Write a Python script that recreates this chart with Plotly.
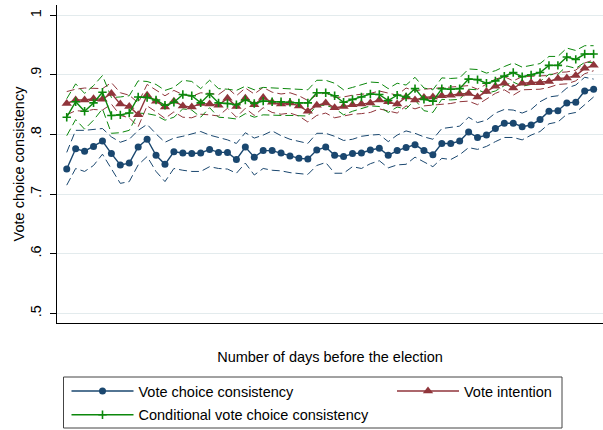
import plotly.graph_objects as go

days = list(range(-60, 0))

vote_choice = [0.742,0.776,0.772,0.780,0.789,0.768,0.749,0.752,0.779,0.792,
0.765,0.750,0.771,0.769,0.768,0.769,0.775,0.770,0.770,0.758,
0.779,0.762,0.773,0.773,0.769,0.764,0.760,0.759,0.774,0.779,
0.765,0.763,0.768,0.769,0.774,0.777,0.765,0.773,0.778,0.783,
0.773,0.766,0.785,0.785,0.789,0.804,0.795,0.799,0.810,0.819,
0.819,0.813,0.816,0.825,0.839,0.840,0.853,0.854,0.873,0.876]
vote_choice_hi = [0.770,0.807,0.807,0.808,0.810,0.796,0.787,0.792,0.807,0.817,
0.801,0.787,0.794,0.797,0.801,0.805,0.799,0.795,0.791,0.785,
0.803,0.794,0.799,0.806,0.798,0.792,0.789,0.785,0.802,0.802,
0.797,0.790,0.792,0.797,0.799,0.800,0.788,0.799,0.806,0.802,
0.796,0.792,0.810,0.812,0.814,0.829,0.820,0.824,0.836,0.842,
0.841,0.836,0.842,0.855,0.863,0.865,0.878,0.883,0.896,0.893]
vote_choice_lo = [0.715,0.743,0.738,0.748,0.767,0.743,0.718,0.721,0.749,0.763,
0.738,0.721,0.743,0.740,0.738,0.738,0.746,0.743,0.742,0.735,
0.752,0.732,0.743,0.740,0.739,0.736,0.734,0.733,0.748,0.753,
0.735,0.735,0.746,0.743,0.751,0.756,0.744,0.749,0.750,0.762,
0.754,0.746,0.760,0.758,0.766,0.778,0.775,0.780,0.788,0.795,
0.795,0.791,0.799,0.805,0.818,0.821,0.834,0.837,0.850,0.863]

intention = [0.852,0.858,0.858,0.860,0.859,0.869,0.851,0.847,0.833,0.866,
0.856,0.846,0.856,0.848,0.846,0.852,0.851,0.849,0.861,0.847,
0.861,0.850,0.862,0.854,0.851,0.853,0.848,0.839,0.849,0.853,
0.845,0.847,0.850,0.851,0.853,0.858,0.855,0.851,0.863,0.858,
0.862,0.863,0.865,0.866,0.868,0.869,0.863,0.872,0.881,0.886,
0.878,0.886,0.887,0.887,0.889,0.894,0.895,0.899,0.911,0.916]
intention_hi = [0.872,0.876,0.878,0.878,0.877,0.887,0.870,0.866,0.853,0.884,
0.874,0.865,0.874,0.867,0.864,0.870,0.869,0.867,0.878,0.865,
0.878,0.868,0.879,0.871,0.868,0.870,0.865,0.857,0.866,0.870,
0.862,0.863,0.866,0.867,0.869,0.873,0.870,0.866,0.878,0.873,
0.876,0.877,0.879,0.880,0.881,0.882,0.876,0.885,0.893,0.897,
0.890,0.897,0.898,0.898,0.899,0.904,0.905,0.908,0.920,0.925]
intention_lo = [0.833,0.840,0.839,0.842,0.841,0.851,0.832,0.828,0.813,0.848,
0.838,0.827,0.838,0.829,0.828,0.834,0.833,0.831,0.844,0.829,
0.844,0.832,0.845,0.837,0.834,0.836,0.831,0.821,0.832,0.836,
0.828,0.831,0.834,0.835,0.837,0.843,0.840,0.836,0.848,0.843,
0.848,0.849,0.851,0.852,0.855,0.856,0.850,0.859,0.869,0.875,
0.866,0.875,0.876,0.876,0.879,0.884,0.885,0.890,0.902,0.907]

conditional = [0.829,0.855,0.839,0.853,0.871,0.832,0.833,0.836,0.863,0.862,
0.858,0.849,0.854,0.867,0.865,0.853,0.868,0.853,0.852,0.850,
0.858,0.852,0.856,0.855,0.855,0.854,0.853,0.853,0.870,0.870,
0.865,0.854,0.859,0.863,0.868,0.867,0.857,0.866,0.863,0.877,
0.859,0.856,0.877,0.876,0.877,0.893,0.892,0.886,0.890,0.898,
0.904,0.897,0.900,0.904,0.916,0.916,0.930,0.926,0.935,0.935]
conditional_hi = [0.860,0.885,0.869,0.882,0.899,0.862,0.863,0.865,0.890,0.889,
0.884,0.874,0.879,0.891,0.889,0.877,0.891,0.877,0.876,0.874,
0.881,0.875,0.879,0.878,0.878,0.876,0.875,0.875,0.891,0.891,
0.886,0.875,0.879,0.883,0.888,0.887,0.877,0.886,0.883,0.896,
0.878,0.875,0.895,0.894,0.895,0.910,0.909,0.903,0.907,0.914,
0.920,0.913,0.916,0.919,0.931,0.931,0.945,0.941,0.949,0.949]
conditional_lo = [0.798,0.825,0.809,0.824,0.843,0.802,0.803,0.807,0.836,0.835,
0.832,0.824,0.829,0.843,0.841,0.829,0.845,0.829,0.828,0.826,
0.835,0.829,0.833,0.832,0.832,0.832,0.831,0.831,0.849,0.849,
0.844,0.833,0.839,0.843,0.848,0.847,0.837,0.846,0.843,0.858,
0.840,0.837,0.859,0.858,0.859,0.876,0.875,0.869,0.873,0.882,
0.888,0.881,0.884,0.889,0.901,0.901,0.915,0.911,0.921,0.921]

y_ticks = [0.5, 0.6, 0.7, 0.8, 0.9, 1.0]
y_tick_labels = [".5", ".6", ".7", ".8", ".9", "1"]

BLUE = "#1a476f"
RED = "#90353b"
GREEN = "#0c880c"
FONT = "Arial, Liberation Sans, sans-serif"
FS = 14.5

# pixel geometry of the plot area
W, H = 603, 430
PL, PR, PT, PB = 57, 603, 5, 323
PW, PH = PR - PL, PB - PT


def px(x):
    return (x - PL) / PW


def py(y):
    return (PB - y) / PH


fig = go.Figure()

series = [
    ("Vote choice consistency", vote_choice, vote_choice_hi, vote_choice_lo, BLUE,
     dict(symbol="circle", size=7), "legend", "g1"),
    ("Vote intention", intention, intention_hi, intention_lo, RED,
     dict(symbol="triangle-up", size=9), "legend2", "g2"),
    ("Conditional vote choice consistency", conditional, conditional_hi, conditional_lo, GREEN,
     dict(symbol="cross-thin", size=6, line=dict(width=1.6, color=GREEN)), "legend", "g3"),
]

for name, vals, hi, lo, col, mk, leg, grp in series:
    for band in (hi, lo):
        fig.add_trace(go.Scatter(x=days, y=band, mode="lines",
                                 line=dict(color=col, width=1, dash="8px,4px"),
                                 showlegend=False, hoverinfo="skip"))

for name, vals, hi, lo, col, mk, leg, grp in series:
    fig.add_trace(go.Scatter(x=days, y=vals, mode="lines+markers", name=name,
                             line=dict(color=col, width=1.4),
                             marker=dict(color=col, **mk),
                             legend=leg, legendgroup=grp))

legend_common = dict(
    orientation="v", xanchor="left", yanchor="top",
    borderwidth=0, bgcolor="rgba(0,0,0,0)",
    font=dict(size=FS, family=FONT, color="#000"), itemwidth=62,
    tracegroupgap=2,
)

fig.update_layout(
    width=W, height=H,
    margin=dict(l=PL, r=W - PR, t=PT, b=H - PB, autoexpand=False),
    paper_bgcolor="white", plot_bgcolor="white",
    font=dict(family=FONT, size=FS, color="#000"),
    showlegend=True,
    legend=dict(x=px(66.5), y=py(375), **legend_common),
    legend2=dict(x=px(392), y=py(375), **legend_common),
    shapes=[dict(type="rect", xref="paper", yref="paper",
                 x0=px(63.5), x1=px(562), y0=py(428), y1=py(377),
                 line=dict(color="#444", width=1), fillcolor="rgba(0,0,0,0)")],
    xaxis=dict(
        range=[-61.09, 0.05], showgrid=False, zeroline=False, automargin=False,
        showticklabels=False, ticks="", showline=True, linecolor="#000", linewidth=1,
        title=dict(text="Number of days before the election", standoff=28,
                   font=dict(size=FS)),
    ),
    yaxis=dict(
        range=[0.4837, 1.0173], tickvals=y_ticks, ticktext=y_tick_labels,
        tickangle=-90, ticks="outside", ticklen=6, tickcolor="#000",
        ticklabelstandoff=3, automargin=False,
        showline=True, linecolor="#000", linewidth=1,
        showgrid=True, gridcolor="#e3ebed", gridwidth=1, zeroline=False,
        tickfont=dict(size=FS),
        title=dict(text="Vote choice consistency", standoff=0, font=dict(size=FS)),
    ),
)

fig.write_html("out.html", config={"displayModeBar": False, "responsive": False},
               post_script="document.body.style.margin='0';document.body.style.padding='0';")
